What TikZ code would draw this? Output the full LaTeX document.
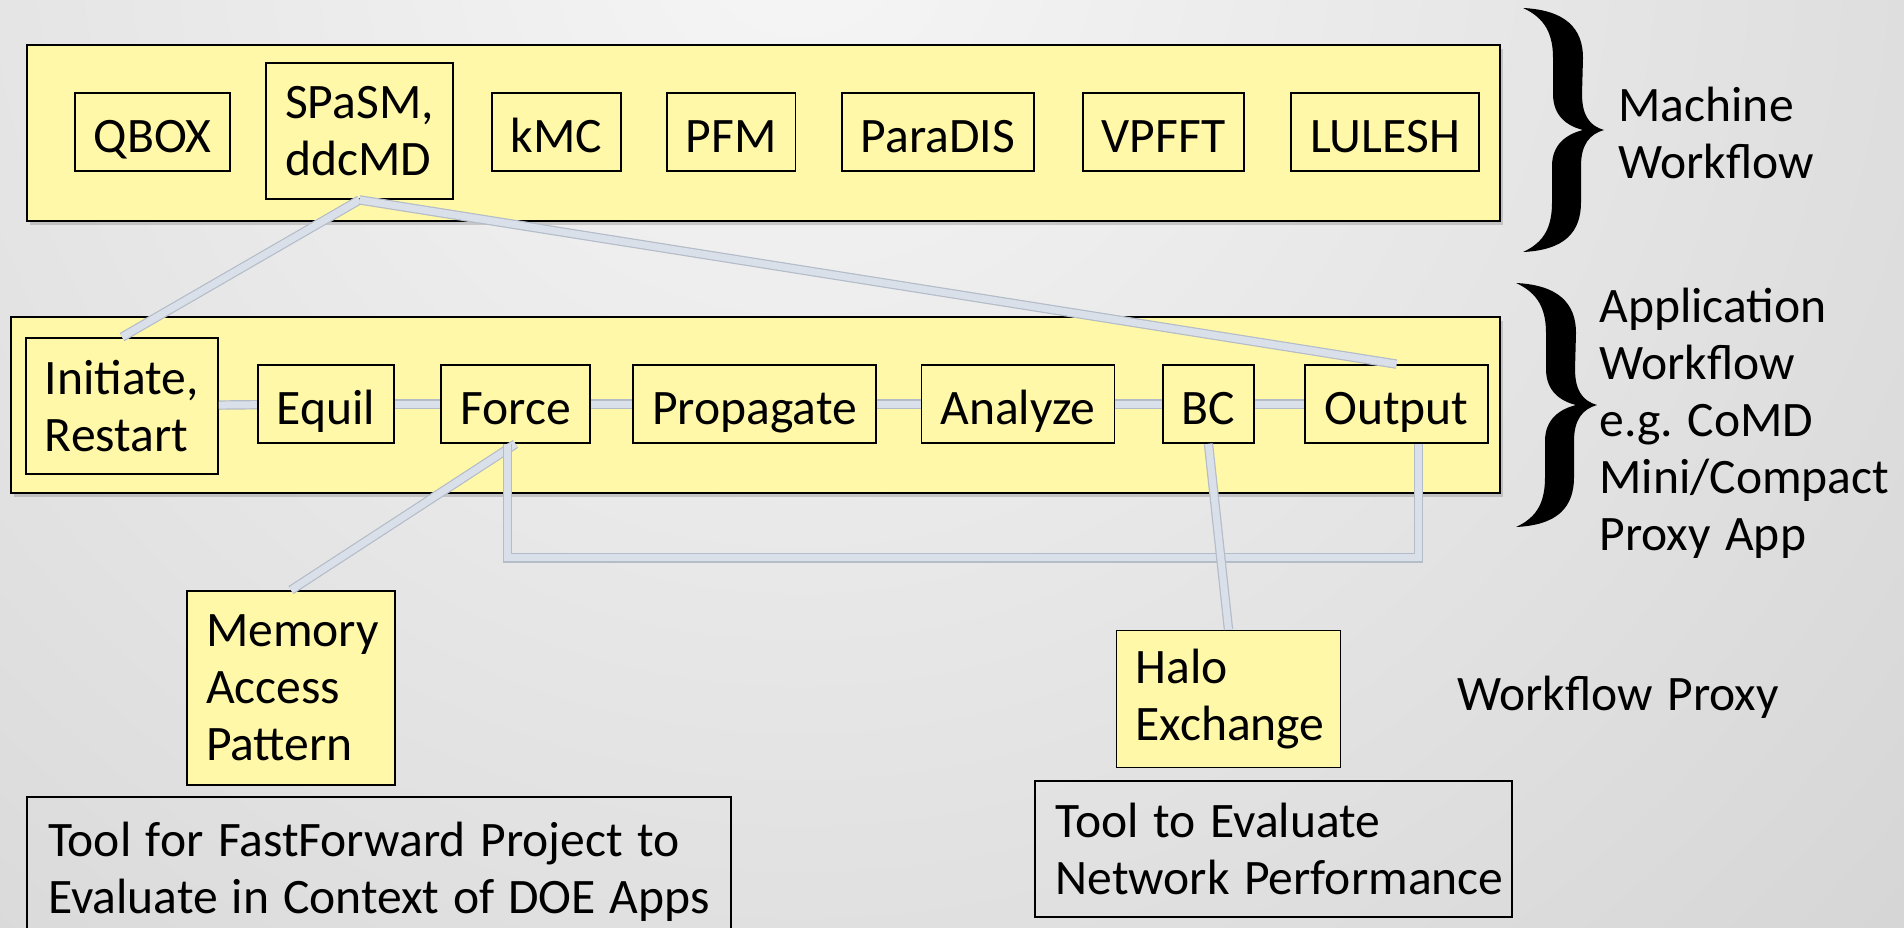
\documentclass[tikz,border=0pt]{standalone}
\usepackage{fontspec}
\setmainfont{Carlito}[WordSpace=1.3]
\usepackage{tikz}
\usetikzlibrary{shadows}
\definecolor{bgin}{HTML}{F6F6F6}
\definecolor{bgout}{HTML}{BEBEBE}
\definecolor{padyel}{HTML}{FFF8A8}
\definecolor{pipefill}{HTML}{D9E0EA}
\definecolor{pipeedge}{HTML}{B4BCC8}
\frenchspacing
\tikzset{
  big/.style={font=\fontsize{24.8}{28.5}\selectfont},
  panel/.style={draw=black, line width=0.8pt, fill=padyel,
    drop shadow={shadow xshift=1.5pt, shadow yshift=-2pt, opacity=0.35}},
  box/.style={big, draw=black, line width=0.9pt, fill=padyel,
    inner xsep=9.5pt, inner ysep=4pt, minimum height=39pt, align=center},
  one/.style={box, text height=22pt, text depth=2pt},
  tall/.style={box, align=flush left, minimum height=68pt},
  tool/.style={big, draw=black, line width=0.9pt, align=flush left, inner xsep=10.5pt},
  side/.style={big, align=flush left, inner sep=0pt},
  pipe/.style={draw=pipeedge, line width=0.6pt, double=pipefill, double distance=3.5pt},
  curly/.pic={
    \fill[black] (0,-122) .. controls (42,-120) and (60,-102) .. (60,-72)
      -- (59,-36) .. controls (59,-14) and (67,-4) .. (81,0)
      .. controls (67,4) and (58,14) .. (58,36)
      -- (58,72) .. controls (58,102) and (42,120) .. (0,122)
      .. controls (22,112) and (29,96) .. (29,72)
      -- (29,36) .. controls (29,14) and (44,4) .. (60,0)
      .. controls (44,-4) and (30,-14) .. (30,-36)
      -- (30,-72) .. controls (30,-96) and (22,-112) .. (0,-122) -- cycle;
  }
}

\begin{document}
\begin{tikzpicture}[x=0.5pt, y=-0.5pt]
  \useasboundingbox (0,0) rectangle (1904,927);
  \clip (0,0) rectangle (1904,927);
  \shade[inner color=bgin, outer color=bgout] (800,-80) circle (1300pt);

  \node[panel, minimum width=736.5pt, minimum height=88pt] (MW) at (763.5,133) {};
  \node[panel, minimum width=744.5pt, minimum height=88pt] (AW) at (755.5,405) {};

  \node[one] (Q) at (152.5,132) {QBOX};
  \node[tall] (S) at (359.5,131) {SPaSM,\\ddcMD};
  \node[one] (K) at (556.5,132) {kMC};
  \node[one] (PF) at (731,132) {PFM};
  \node[one] (PD) at (938,132) {ParaDIS};
  \node[one] (V) at (1163.5,132) {VPFFT};
  \node[one] (L) at (1385,132) {LULESH};

  \node[tall] (I) at (122,406) {Initiate,\\Restart};
  \node[one] (E) at (326,404) {Equil};
  \node[one] (F) at (515.5,404) {Force};
  \node[one] (P) at (754.5,404) {Propagate};
  \node[one] (A) at (1018,404) {Analyze};
  \node[one] (B) at (1208.5,404) {BC};
  \node[one] (O) at (1396.5,404) {Output};

  \node[box, align=flush left, text width=85pt, minimum height=97pt] (M) at (291,688)
    {Memory\\Access\\Pattern};
  \node[box, align=flush left, text width=93pt, minimum height=68.5pt] (H) at (1228.5,699)
    {Halo\\Exchange};
  \node[tool, text width=331pt, minimum height=75pt] (T1) at (379,872)
    {Tool for FastForward Project to\\Evaluate in Context of DOE Apps};
  \node[tool, text width=218pt, inner xsep=10.25pt, minimum height=68pt] (T2) at (1273.5,849)
    {Tool to Evaluate\\\mbox{Network Performance}};

  \pic at (1523,130) {curly};
  \pic at (1516,405) {curly};
  \node[side, anchor=west] (MWt) at (1618,133) {Machine\\Workflow};
  \node[side, anchor=west] (AWt) at (1599,423)
    {Application\\Workflow\\e.g. CoMD\\Mini/Compact\\Proxy App};
  \node[side] (WP) at (1618,697) {Workflow Proxy};

  \draw[pipe] (S.south) -- (I.north);
  \draw[pipe] (S.south) -- (O.north);
  \draw[pipe] (I) -- (E);
  \draw[pipe] (E) -- (F);
  \draw[pipe] (F) -- (P);
  \draw[pipe] (P) -- (A);
  \draw[pipe] (A) -- (B);
  \draw[pipe] (B) -- (O);
  \draw[pipe] (F.south) -- (M.north);
  \draw[pipe] ([xshift=-4pt]F.south) -- ++(0,114) -| ([xshift=11pt]O.south);
  \draw[pipe] (B.south) -- (H.north);
\end{tikzpicture}
\end{document}
